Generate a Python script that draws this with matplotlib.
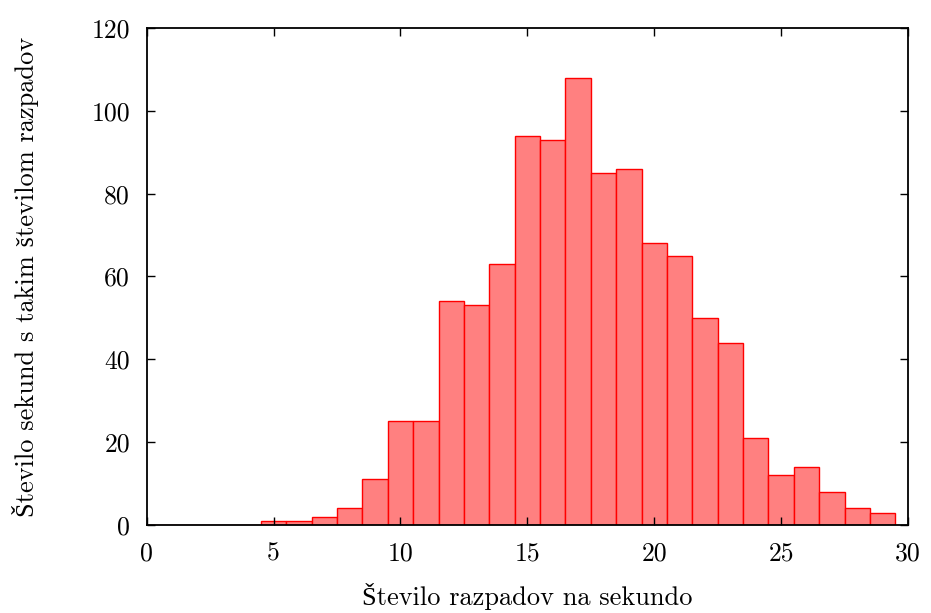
import numpy as np
import matplotlib
matplotlib.use('Agg')
import matplotlib.pyplot as plt

############################################################
#  data
############################################################
razpadi = np.arange(0, 30)
stevilo_sekund = [0, 0, 0, 0, 0, 1, 1, 2, 4, 11,
                  25, 25, 54, 53, 63, 94, 93, 108, 85, 86,
                  68, 65, 50, 44, 21, 12, 14, 8, 4, 3]
x_ticks = [0, 5, 10, 15, 20, 25, 30]
y_ticks = [0, 20, 40, 60, 80, 100, 120]

# cmr10 has no Š, so it falls back to Liberation Serif for that glyph
plt.rcParams['font.family'] = ['cmr10', 'Liberation Serif']
plt.rcParams['axes.unicode_minus'] = False
plt.rcParams['axes.formatter.use_mathtext'] = False

fig = plt.figure(figsize=(9.31, 6.13), dpi=100)
ax = fig.add_axes([0.1576, 0.1436, 0.8177, 0.8107])

ax.bar(razpadi, stevilo_sekund, width=1.0, align='center',
       facecolor='#ff8080', edgecolor='#ff0000', linewidth=1.0)

ax.set_xlim(0, 30)
ax.set_ylim(0, 120)
ax.set_xticks(x_ticks)
ax.set_yticks(y_ticks)
ax.tick_params(direction='in', top=True, right=True, length=6, width=1.0,
               labelsize=18.5, pad=12)
for s in ax.spines.values():
    s.set_linewidth(1.3)

ax.set_xlabel('Število razpadov na sekundo', fontsize=19, labelpad=13)
ax.set_ylabel('Število sekund s takim številom razpadov',
              fontsize=19, labelpad=38)

fig.savefig('out.png', dpi=100)
